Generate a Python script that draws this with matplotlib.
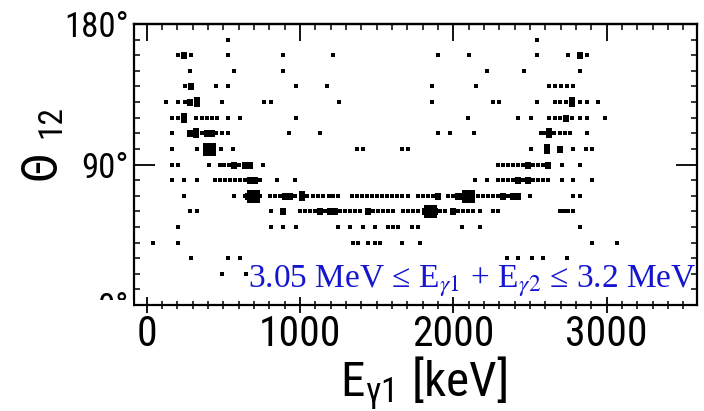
import matplotlib
matplotlib.use("Agg")
import matplotlib.pyplot as plt
from matplotlib import font_manager
from matplotlib.patches import Rectangle
from matplotlib.ticker import MultipleLocator

# angle rows (deg) -> gamma-1 energies (keV) and intensity class (1 small dot .. 5 big blob)
E_170 = [528, 2544]
W_170 = [1, 1]
E_160 = [206, 245, 287, 528, 891, 1217, 1898, 2102, 2544, 2750, 2826, 2870]
W_160 = [1, 3, 1, 1, 1, 1, 1, 1, 1, 1, 3, 1]
E_150 = [282, 569, 891, 2222, 2461, 2826]
W_150 = [1, 1, 1, 1, 1, 1]
E_140 = [250, 287, 452, 528, 974, 1174, 1863, 2146, 2626, 2663, 2702, 2740, 2783]
W_140 = [2, 3, 1, 1, 1, 1, 1, 1, 1, 1, 2, 2, 2]
E_130 = [124, 206, 250, 282, 326, 489, 767, 811, 1254, 1859, 2261, 2298,
         2544, 2663, 2696, 2735, 2772, 2826, 2870, 2946]
W_130 = [1, 1, 2, 3, 4, 1, 1, 1, 1, 1, 1, 1,
         1, 1, 1, 2, 4, 2, 1, 1]
E_120 = [163, 206, 245, 322, 359, 396, 428, 456, 528, 609, 974, 2098,
         2424, 2505, 2626, 2663, 2696, 2735, 2772, 2826, 2870, 2989]
W_120 = [1, 1, 4, 2, 2, 2, 1, 1, 1, 1, 1, 1,
         1, 1, 2, 2, 1, 3, 2, 1, 1, 1]
E_110 = [163, 282, 322, 359, 396, 424, 452, 493, 528, 928, 1130, 1898, 1979, 2137,
         2570, 2598, 2626, 2659, 2696, 2729, 2761, 2870]
W_110 = [1, 3, 4, 2, 3, 3, 2, 1, 1, 1, 2, 1, 1, 1,
         2, 2, 4, 2, 1, 2, 2, 1]
E_100 = [163, 326, 406, 483, 565, 1370, 1413, 1663, 1706, 2505, 2609, 2696, 2783, 2866, 2903]
W_100 = [2, 1, 5, 1, 1, 1, 1, 1, 1, 1, 4, 3, 1, 1, 1]
E_90 = [163, 206, 406, 478, 506, 536, 571, 603, 641, 674, 761,
        2294, 2326, 2359, 2391, 2424, 2457, 2489, 2522, 2555, 2587, 2620, 2707, 2826]
W_90 = [1, 1, 1, 2, 2, 2, 3, 2, 3, 3, 1,
        1, 1, 1, 1, 1, 2, 3, 2, 1, 2, 3, 1, 2]
E_80 = [163, 245, 326, 446, 478, 511, 544, 576, 609, 641, 674, 707, 739, 848, 967,
        2142, 2218, 2294, 2326, 2359, 2391, 2424, 2457, 2489, 2522, 2555, 2587, 2620,
        2707, 2783, 2903]
W_80 = [1, 1, 1, 1, 2, 2, 1, 2, 2, 2, 3, 3, 2, 2, 1,
        1, 2, 2, 1, 2, 2, 3, 1, 3, 2, 2, 1, 2,
        1, 1, 1]
E_70 = [245, 569, 641, 663, 696, 739, 806, 838, 870, 902, 935, 967, 1011, 1044, 1083,
        1119, 1152, 1189, 1217, 1250, 1337, 1370, 1402, 1435, 1467, 1500, 1533, 1565,
        1598, 1631, 1663, 1707, 1772, 1804, 1837, 1870, 1902, 1967, 2000, 2033, 2065,
        2098, 2131, 2163, 2196, 2228, 2261, 2294, 2326, 2359, 2391, 2424, 2500, 2783, 2826]
W_70 = [2, 1, 2, 3, 5, 2, 1, 2, 2, 3, 3, 2, 4, 1, 1,
        1, 1, 1, 1, 2, 1, 1, 1, 1, 1, 2, 1, 1,
        1, 1, 1, 1, 2, 1, 2, 2, 3, 2, 2, 3, 3,
        5, 2, 1, 2, 1, 2, 2, 3, 2, 3, 3, 1, 1, 1]
E_60 = [282, 326, 811, 891, 1000, 1033, 1065, 1098, 1131, 1163, 1196, 1228, 1261, 1294,
        1326, 1359, 1392, 1446, 1478, 1511, 1543, 1576, 1609, 1674, 1706, 1739, 1772,
        1815, 1848, 1881, 1913, 1946, 2000, 2033, 2065, 2098, 2131, 2174, 2261, 2294,
        2696, 2724, 2750, 2783]
W_60 = [2, 2, 1, 3, 1, 2, 2, 2, 3, 2, 3, 3, 2, 1,
        1, 1, 2, 3, 2, 1, 2, 2, 1, 2, 2, 2, 2,
        3, 5, 3, 2, 1, 3, 2, 1, 1, 1, 1, 1, 1,
        1, 2, 2, 1]
E_50 = [206, 811, 891, 972, 1250, 1326, 1413, 1490, 1576, 1609, 1641, 1729, 1772, 2055, 2174, 2826]
W_50 = [1, 1, 1, 1, 1, 1, 2, 1, 1, 1, 1, 1, 1, 1, 2, 1]
E_40 = [43, 206, 1348, 1380, 1446, 1490, 1522, 1663, 1783, 2903, 3066]
W_40 = [1, 2, 1, 1, 1, 1, 1, 1, 2, 1, 1]
E_30 = [289, 532, 609, 2348, 2424, 2511, 2587, 2740]
W_30 = [1, 1, 1, 1, 1, 1, 1, 1]
E_20 = [489, 648]
W_20 = [1, 1]

ROWS = [
    (170, E_170, W_170), (160, E_160, W_160), (150, E_150, W_150),
    (140, E_140, W_140), (130, E_130, W_130), (120, E_120, W_120),
    (110, E_110, W_110), (100, E_100, W_100), (90, E_90, W_90),
    (80, E_80, W_80), (70, E_70, W_70), (60, E_60, W_60),
    (50, E_50, W_50), (40, E_40, W_40), (30, E_30, W_30), (20, E_20, W_20),
]

X_TICKS = [0, 1000, 2000, 3000]
X_LABELS = ["0", "1000", "2000", "3000"]
Y_TICKS = [0, 90, 180]
Y_LABELS = ["0°", "90°", "180°"]

W, H = 704, 411

# narrowest sans available for the axis texts (original uses a DIN-like face)
names = {f.name for f in font_manager.fontManager.ttflist}
NARROW = dict(family="DejaVu Sans", stretch="condensed")
for cand in ["Liberation Sans Narrow", "Roboto Condensed", "Open Sans Condensed",
             "Noto Sans Condensed"]:
    if cand in names:
        NARROW = dict(family=cand)
        break

plt.rcParams["mathtext.fontset"] = "stix"

# marker height in px per intensity class
MARK_PX = {1: 3.3, 2: 5.0, 3: 7.0, 4: 9.5, 5: 13.0}
RECT = [(-0.36, -0.5), (0.36, -0.5), (0.36, 0.5), (-0.36, 0.5)]


def px(x, y):
    return x / W, 1 - y / H


fig = plt.figure(figsize=(W / 100, H / 100), dpi=100)
ax = fig.add_axes([134 / W, 1 - 305 / H, (697 - 134) / W, (305 - 24) / H])

for theta, energies, weights in ROWS:
    for level in sorted(set(weights)):
        xs = [e for e, w in zip(energies, weights) if w == level]
        size = (MARK_PX[level] * 0.72) ** 2
        marker = RECT if level in (2, 3, 4) else "s"
        ax.scatter(xs, [theta] * len(xs), s=size, marker=marker,
                   color="black", linewidths=0, zorder=3)

ax.set_xlim(-83, 3590)
ax.set_ylim(0, 180)

for side in ["left", "right", "top", "bottom"]:
    ax.spines[side].set_linewidth(1.6)

# bottom axis: crossing ticks, labels below
ax.set_xticks(X_TICKS, labels=X_LABELS)
ax.xaxis.set_minor_locator(MultipleLocator(100))
ax.tick_params(axis="x", which="major", direction="inout", length=11, width=1.3, pad=1,
               labelsize=30)
ax.tick_params(axis="x", which="minor", direction="inout", length=6, width=1.1)
for lab in ax.get_xticklabels():
    lab.set(**NARROW)

# top axis: inward ticks only
top = ax.secondary_xaxis("top")
top.set_xticks(X_TICKS)
top.xaxis.set_minor_locator(MultipleLocator(100))
top.tick_params(which="major", direction="in", length=12, width=1.3, labeltop=False)
top.tick_params(which="minor", direction="in", length=4, width=1.1)
top.spines["top"].set_linewidth(1.6)

# left / right: inward ticks every 10 deg, long one at 90
ax.set_yticks(Y_TICKS, labels=Y_LABELS)
ax.yaxis.set_minor_locator(MultipleLocator(10))
ax.tick_params(axis="y", which="major", direction="in", length=15, width=1.3, pad=4,
               labelsize=25, right=True)
ax.tick_params(axis="y", which="minor", direction="in", length=4, width=1.1, right=True)
for lab in ax.get_yticklabels():
    lab.set(**NARROW)

# white strip that clips the lower half of the 0 deg label
fig.add_artist(Rectangle(px(55, 320), 78 / W, 20 / H, transform=fig.transFigure,
                         facecolor="white", edgecolor="none", zorder=10))

# axis titles
fig.text(*px(42, 165), "Θ", rotation=90, ha="center", va="center", fontsize=36, **NARROW)
fig.text(*px(51, 122), "12", rotation=90, ha="center", va="center", fontsize=24, **NARROW)
fig.text(*px(424, 396), r"E$_{\mathregular{γ1}}$ [keV]", ha="center", va="baseline",
         fontsize=35.5, **NARROW)

fig.text(*px(697, 287), r"3.05 MeV ≤ E$_{\gamma 1}$ + E$_{\gamma 2}$ ≤ 3.2 MeV",
         ha="right", va="baseline", fontsize=24, color="#1515d0",
         family="Liberation Serif")

fig.savefig("out.png", dpi=100)
